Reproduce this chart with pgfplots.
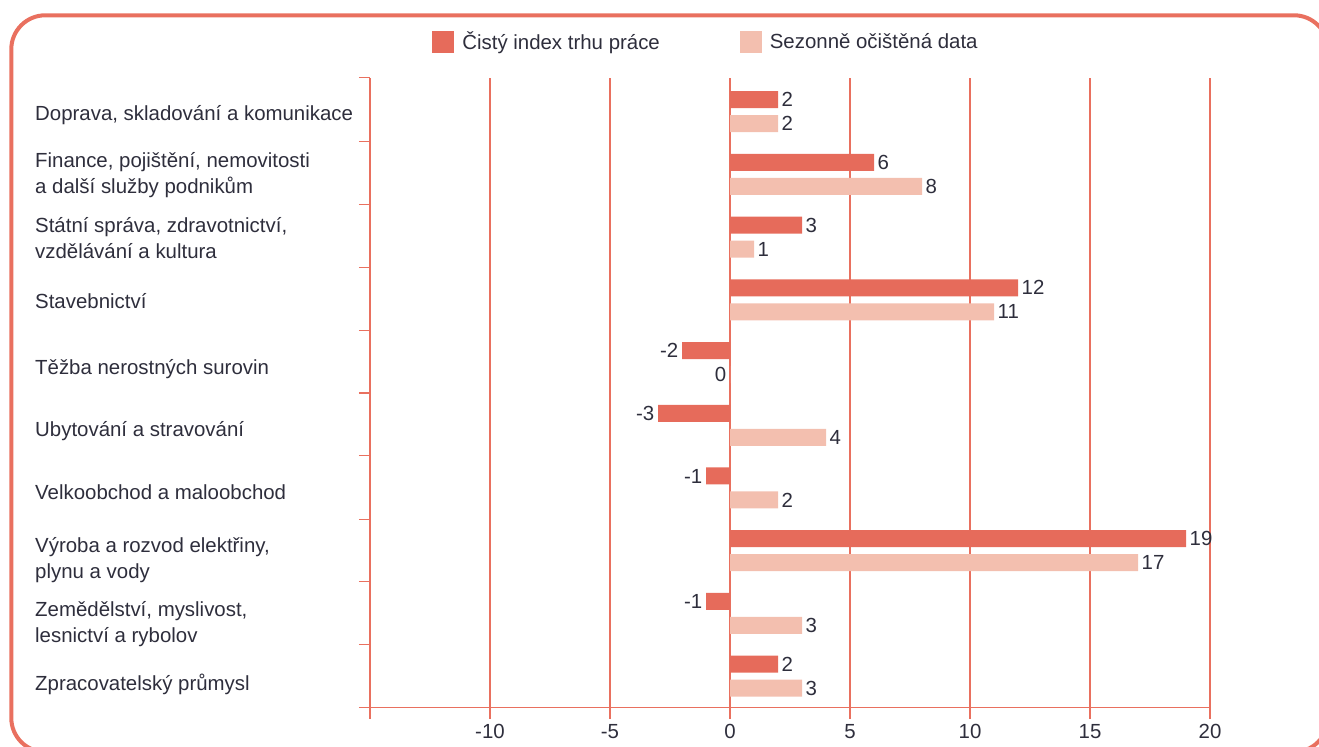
\documentclass[border=0pt]{standalone}
\usepackage{fontspec}
\setmainfont{Liberation Sans}
\usepackage{pgfplots}
\pgfplotsset{compat=1.18}
\definecolor{dark}{HTML}{E66B5B}
\definecolor{light}{HTML}{F3BFAF}
\definecolor{gridc}{HTML}{E9705F}
\definecolor{txt}{HTML}{2E2E3C}
\pgfplotsset{sqlegend/.style={legend image code/.code={\fill[##1] (0bp,-11bp) rectangle (22bp,11bp);}}}
\begin{document}
\begin{tikzpicture}
\path[use as bounding box] (0,0) rectangle (1319bp,747bp);
\clip (0,0) rectangle (1319bp,747bp);
\draw[gridc, line width=4bp, rounded corners=34bp] (11.3bp,-5bp) rectangle (1328bp,731.7bp);
\begin{axis}[
  at={(370bp,39.3bp)}, anchor=south west,
  scale only axis, width=840bp, height=630bp,
  xbar, bar width=17bp, clip=false,
  xmin=-15, xmax=20, ymin=-0.503, ymax=9.542,
  xtick={-15,-10,-5,0,5,10,15,20},
  xticklabels={,-10,-5,0,5,10,15,20},
  % label positions read off the reference (slightly below the bar pairs)
  ytick={-0.139,0.825,1.854,2.938,3.903,4.899,5.979,6.980,7.984,8.949},
  yticklabels={
    Zpracovatelský průmysl,
    {Zemědělství, myslivost,\\lesnictví a rybolov},
    {Výroba a rozvod elektřiny,\\plynu a vody},
    Velkoobchod a maloobchod,
    Ubytování a stravování,
    Těžba nerostných surovin,
    Stavebnictví,
    {Státní správa, zdravotnictví,\\vzdělávání a kultura},
    {Finance, pojištění, nemovitosti\\a další služby podnikům},
    {Doprava, skladování a komunikace}},
  minor ytick={-0.503,0.502,1.511,2.500,3.520,4.513,5.513,6.513,7.522,8.526,9.542},
  axis x line=bottom, axis y line=left,
  axis line style={gridc, line width=1.3bp, -},
  xmajorgrids, grid style={gridc, line width=1.3bp},
  tick align=outside, major tick length=11bp, minor tick length=11bp,
  major x tick style={gridc, line width=1.3bp},
  major y tick style={draw=none},
  minor y tick style={gridc, line width=1.3bp},
  /pgf/number format/assume math mode=true,
  tick label style={font=\fontsize{20.5}{24}\selectfont, text=txt},
  xticklabel style={yshift=-2.5bp},
  yticklabel style={anchor=west, align=left, inner sep=0pt, xshift=-324bp,
    font=\fontsize{20.5}{26}\selectfont},
  nodes near coords, point meta=x,
  nodes near coords style={font=\fontsize{20.5}{24}\selectfont, text=txt, inner sep=3.5bp},
  every node near coord/.append style={/utils/exec={%
    \pgfmathfloatifflags{\pgfplotspointmeta}{1}%
      {\pgfkeysalso{/tikz/anchor=west}}{\pgfkeysalso{/tikz/anchor=east}}}},
  legend style={at={(axis description cs:0.074,1.057)}, anchor=west,
    draw=none, fill=none, inner sep=0pt, legend columns=2,
    font=\fontsize{20.5}{24}\selectfont, text=txt,
    /tikz/every odd column/.append style={column sep=6bp},
    /tikz/every even column/.append style={column sep=78bp}},
]
\addplot[fill=dark, draw=none, bar shift=12bp, sqlegend]
  coordinates {(2,0) (-1,1) (19,2) (-1,3) (-3,4) (-2,5) (12,6) (3,7) (6,8) (2,9)};
\addplot[fill=light, draw=none, bar shift=-12bp, sqlegend]
  coordinates {(3,0) (3,1) (17,2) (2,3) (4,4) (0,5) (11,6) (1,7) (8,8) (2,9)};
\legend{Čistý index trhu práce, Sezonně očištěná data}
\end{axis}
\end{tikzpicture}
\end{document}
